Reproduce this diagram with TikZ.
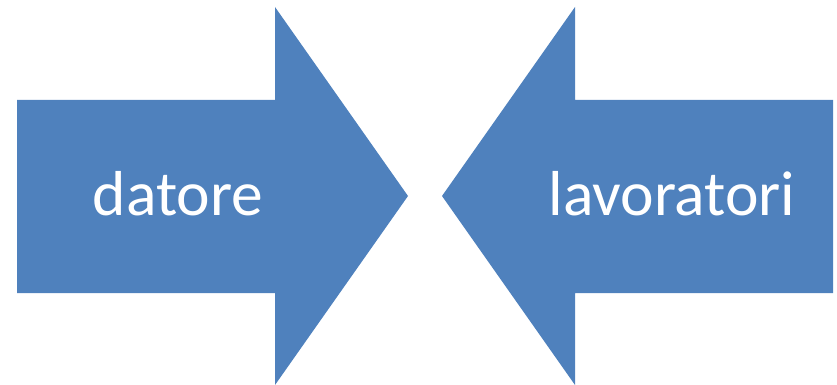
\documentclass[tikz,border=0pt]{standalone}
\usepackage{fontspec}
\setmainfont{Carlito}
\definecolor{arrowblue}{HTML}{4F81BD}
\begin{document}
\begin{tikzpicture}[x=1pt,y=-1pt,
  bigarrow/.style={fill=arrowblue,draw=none},
  arrowlabel/.style={text=white,font=\fontsize{63.5}{72}\selectfont,anchor=base,inner sep=0pt}]
\useasboundingbox (0,0) rectangle (837,385);
% arrow pointing right
\path[bigarrow] (17,100) -- (275,100) -- (275,7) -- (408,196) -- (275,385) -- (275,293) -- (17,293) -- cycle;
% arrow pointing left
\path[bigarrow] (833,100) -- (575,100) -- (575,7) -- (442,196) -- (575,385) -- (575,293) -- (833,293) -- cycle;
\node[arrowlabel] (datore) at (178,215) {datore};
\node[arrowlabel] (lavoratori) at (672,215) {lavoratori};
\end{tikzpicture}
\end{document}
